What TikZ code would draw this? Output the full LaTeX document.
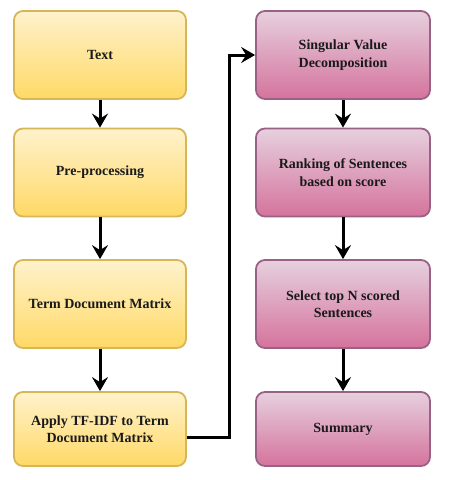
\documentclass[tikz,border=0pt]{standalone}
\usepackage{fontspec}
\setmainfont{Liberation Serif}
\usepackage{xcolor}
\usepackage{tikz}
\usetikzlibrary{positioning, arrows.meta}
\definecolor{yTop}{HTML}{FFF2CC}
\definecolor{yBot}{HTML}{FFD966}
\definecolor{yLine}{HTML}{D6B656}
\definecolor{pTop}{HTML}{E6D0DE}
\definecolor{pBot}{HTML}{D5739D}
\definecolor{pLine}{HTML}{996185}
\definecolor{tInk}{HTML}{1A1A1A}
\tikzset{
  stepbox/.style={line width=1.8pt, rounded corners=9pt, minimum width=172pt,
    minimum height=88pt, inner sep=2pt, align=center, text=tInk,
    font=\fontsize{14}{17.5}\selectfont\bfseries},
  yellowbox/.style={stepbox, draw=yLine, top color=yTop, bottom color=yBot},
  pinkbox/.style={stepbox, draw=pLine, top color=pTop, bottom color=pBot, minimum width=174pt},
  flowarrow/.style={-{Stealth[length=14pt, width=16pt, inset=5pt]}, line width=3pt, black},
}

\begin{document}
\begin{tikzpicture}[x=1pt, y=-1pt]
  \useasboundingbox (0,0) rectangle (448,480);
  % left column
  \node[yellowbox] (text) at (100,55) {Text};
  \node[yellowbox] (prep) at (100,172.5) {Pre-processing};
  \node[yellowbox] (tdm) at (100,304) {Term Document Matrix};
  \node[yellowbox, minimum height=74pt] (tfidf) at (100,429) {Apply TF-IDF to Term\\Document Matrix};
  % right column
  \node[pinkbox] (svd) at (343,55) {Singular Value\\Decomposition};
  \node[pinkbox] (rank) at (343,172.5) {Ranking of Sentences\\based on score};
  \node[pinkbox] (topn) at (343,304) {Select top N scored\\Sentences};
  \node[pinkbox, minimum height=74pt] (summ) at (343,429) {Summary};
  % connectors
  \draw[flowarrow] (text) -- (prep);
  \draw[flowarrow] (prep) -- (tdm);
  \draw[flowarrow] (tdm) -- (tfidf);
  \draw[flowarrow, rounded corners=0pt] ([yshift=-8pt]tfidf.east) -- ++(43,0) |- (svd.west);
  \draw[flowarrow] (svd) -- (rank);
  \draw[flowarrow] (rank) -- (topn);
  \draw[flowarrow] (topn) -- (summ);
\end{tikzpicture}
\end{document}
